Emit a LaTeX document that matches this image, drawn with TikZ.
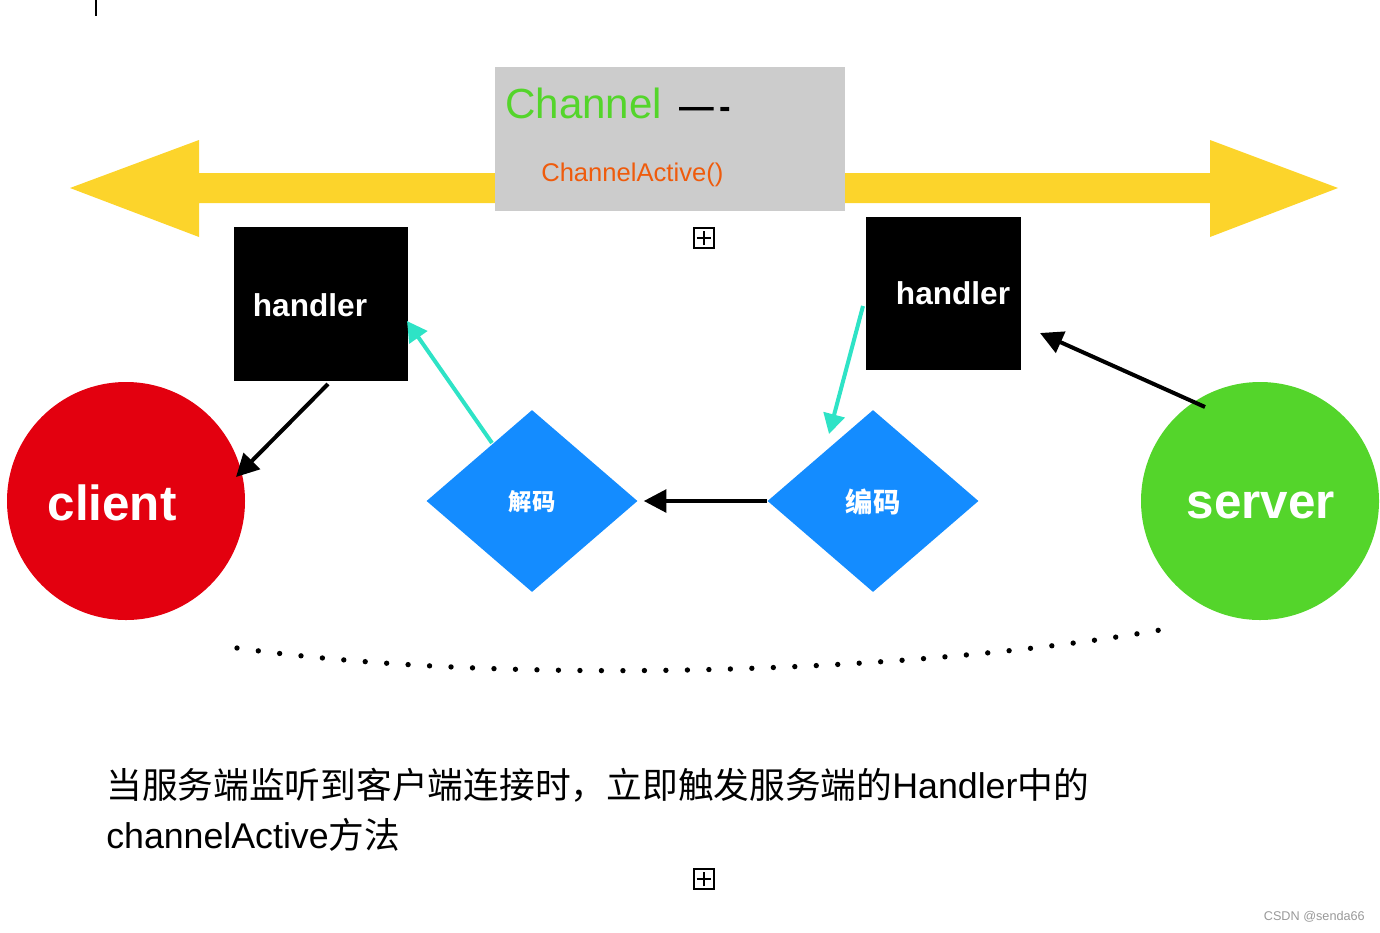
\documentclass[tikz,border=0pt]{standalone}
\usepackage{fontspec}
\setmainfont{Liberation Sans}
\newfontfamily\cjk{Noto Sans CJK SC}
\newfontfamily\lat{Liberation Sans}
\usetikzlibrary{arrows.meta,shapes.geometric}
\definecolor{ylw}{HTML}{FCD42B}
\definecolor{greybox}{HTML}{CCCCCC}
\definecolor{grn}{HTML}{54D52B}
\definecolor{org}{HTML}{EF5B0C}
\definecolor{redc}{HTML}{E3000F}
\definecolor{blu}{HTML}{148CFF}
\definecolor{cyn}{HTML}{2EE3C6}
\definecolor{wm}{HTML}{999999}
\tikzset{
  hbox/.style={fill=black, draw=none, inner sep=0pt},
  htext/.style={text=white, font=\bfseries\fontsize{23.7pt}{28pt}\selectfont},
  bigcirc/.style={circle, draw=none, minimum size=178.5pt, inner sep=0pt},
  bigtext/.style={text=white, font=\bfseries\fontsize{37pt}{44pt}\selectfont},
  dia/.style={diamond, fill=blu, draw=none, minimum width=158.25pt, minimum height=136.5pt, inner sep=0pt},
  blk/.style={draw=black, line width=3pt, -{Triangle[length=17pt,width=17pt]}},
  cy/.style={draw=cyn, line width=3pt, -{Triangle[length=15pt,width=16pt]}},
  plusbox/.style={draw=black, line width=1.5pt, minimum size=15pt, inner sep=0pt},
  dots/.style={draw=black, line width=4pt, line cap=round, dash pattern=on 0pt off 16.12pt},
  bottomtext/.style={anchor=base west, inner sep=0pt, font=\cjk\fontsize{26.8pt}{32pt}\selectfont}
}
\begin{document}
\begin{tikzpicture}[x=0.75pt,y=-0.75pt]
\useasboundingbox (0,0) rectangle (1380,932);
% small mark at top
\draw[line width=1.5pt] (96,0) -- (96,16);
% yellow double arrow
\fill[ylw] (70,188) -- (199,140) -- (199,173) -- (1210,173) -- (1210,140) -- (1338,188)
  -- (1210,237) -- (1210,203) -- (199,203) -- (199,237) -- cycle;
% grey channel box
\node[fill=greybox, minimum width=262.5pt, minimum height=108pt, inner sep=0pt] (chbox) at (670,139) {};
\node[anchor=base west, inner sep=0pt, text=grn, font=\fontsize{31.6pt}{36pt}\selectfont] (chtitle) at (505,118) {Channel};
\node[anchor=base west, inner sep=0pt, font=\bfseries\fontsize{26pt}{30pt}\selectfont] (chdash) at (679,118) {—\kern4pt-};
\node[anchor=base west, inner sep=0pt, text=org, font=\fontsize{19.2pt}{23pt}\selectfont] (chact) at (541,181) {ChannelActive()};
% plus boxes
\node[plusbox] (pb1) at (704,238) {};
\draw[line width=1.5pt] ([xshift=-5.5pt]pb1.center) -- ([xshift=5.5pt]pb1.center);
\draw[line width=1.5pt] ([yshift=-5.5pt]pb1.center) -- ([yshift=5.5pt]pb1.center);
\node[plusbox] (pb2) at (704,879) {};
\draw[line width=1.5pt] ([xshift=-5.5pt]pb2.center) -- ([xshift=5.5pt]pb2.center);
\draw[line width=1.5pt] ([yshift=-5.5pt]pb2.center) -- ([yshift=5.5pt]pb2.center);
% handlers
\node[hbox, minimum width=130.5pt, minimum height=115.5pt] (hl) at (321,304) {};
\node[htext] (hlt) at (310,305) {handler};
\node[hbox, minimum width=116.25pt, minimum height=114.75pt] (hr) at (943.5,293.5) {};
\node[htext] (hrt) at (953,293) {handler};
% circles
\node[bigcirc, fill=redc] (client) at (126,501) {};
\node[bigtext] (clientt) at (112,503) {client};
\node[bigcirc, fill=grn] (server) at (1260,501) {};
\node[bigtext] (servert) at (1261,505) {server};
% diamonds
\node[dia] (dec) at (532,501) {};
\node[text=white, font=\cjk\bfseries\fontsize{17.5pt}{20pt}\selectfont] (dect) at (532,502) {解码};
\node[dia] (enc) at (873,501) {};
\node[text=white, font=\cjk\bfseries\fontsize{20.5pt}{24pt}\selectfont] (enct) at (873,502) {编码};
% connector end points
\coordinate (a1s) at (328,384);
\coordinate (a1e) at (236,477);
\coordinate (a3s) at (1205,407);
\coordinate (a3e) at (1040,333);
\coordinate (a4s) at (492,443);
\coordinate (a4e) at (407,321);
\coordinate (a5s) at (863,306);
\coordinate (a5e) at (829,434);
% arrows
\draw[blk] (a1s) -- (a1e);
\draw[blk, shorten >=4.5pt] (enc.west) -- (dec.east);
\draw[blk] (a3s) -- (a3e);
\draw[cy] (a4s) -- (a4e);
\draw[cy] (a5s) -- (a5e);
% dotted curve
\coordinate (dotL) at (237,648);
\coordinate (dotR) at (1160,630);
\draw[dots] (dotL) .. controls (500,685) and (900,675) .. (dotR);
% bottom text
\node[bottomtext] (bt1) at (106,798) {当服务端监听到客户端连接时，立即触发服务端的{\lat Handler}中的};
\node[bottomtext] (bt2) at (106,848) {{\lat channelActive}方法};
% watermark
\node[anchor=east, inner sep=0pt, text=wm, font=\fontsize{9.5pt}{11pt}\selectfont] (wmk) at (1365,917) {CSDN @senda66};
\end{tikzpicture}
\end{document}
